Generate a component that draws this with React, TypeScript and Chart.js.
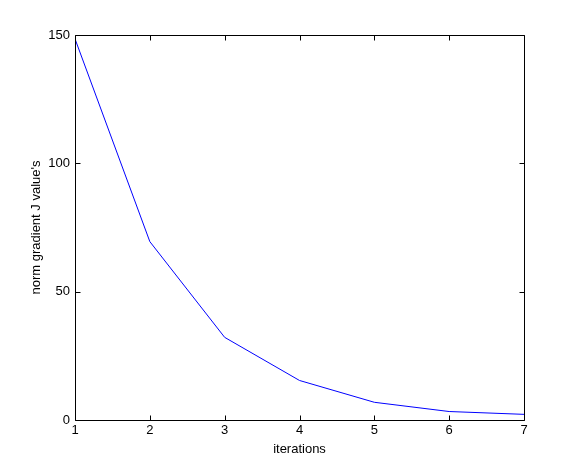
import React, { useEffect, useRef } from "react";
import { Chart, registerables } from "chart.js";

Chart.register(...registerables);

const iterations = [1, 2, 3, 4, 5, 6, 7];
const normGradient = [148.5, 69.5, 32.2, 15.4, 6.9, 3.3, 2.2];
const xTicks = [1, 2, 3, 4, 5, 6, 7];
const yTicks = [0, 50, 100, 150];

const FONT = "'Liberation Sans', Arial, Helvetica, sans-serif";

const boxPlugin = {
  id: "matlabBox",
  afterDraw(chart: any) {
    const ctx = chart.ctx;
    const { left, right, top, bottom } = chart.chartArea;
    const xs = chart.scales.x;
    const ys = chart.scales.y;
    ctx.save();
    ctx.strokeStyle = "#000";
    ctx.lineWidth = 1;
    const L = Math.round(left) + 0.5;
    const R = Math.round(right) + 0.5;
    const T = Math.round(top) + 0.5;
    const B = Math.round(bottom) + 0.5;
    ctx.beginPath();
    ctx.rect(L, T, R - L, B - T);
    const tl = 5;
    xTicks.forEach((v) => {
      const px = Math.round(xs.getPixelForValue(v)) + 0.5;
      ctx.moveTo(px, B);
      ctx.lineTo(px, B - tl);
      ctx.moveTo(px, T);
      ctx.lineTo(px, T + tl);
    });
    yTicks.forEach((v) => {
      const py = Math.round(ys.getPixelForValue(v)) + 0.5;
      ctx.moveTo(L, py);
      ctx.lineTo(L + tl, py);
      ctx.moveTo(R, py);
      ctx.lineTo(R - tl, py);
    });
    ctx.stroke();
    ctx.restore();
  },
};

export default function App() {
  const ref = useRef<HTMLCanvasElement | null>(null);
  useEffect(() => {
    const canvas = ref.current;
    if (!canvas) return;
    const chart = new Chart(canvas, {
      type: "line",
      data: {
        datasets: [
          {
            data: iterations.map((x, i) => ({ x, y: normGradient[i] })),
            borderColor: "#0000ff",
            borderWidth: 1,
            pointRadius: 0,
            tension: 0,
            fill: false,
          },
        ],
      },
      options: {
        animation: false,
        responsive: false,
        devicePixelRatio: 1,
        layout: { padding: { top: 35, right: 55, left: 0, bottom: 0 } },
        plugins: { legend: { display: false }, tooltip: { enabled: false } },
        scales: {
          x: {
            type: "linear",
            min: 1,
            max: 7,
            afterBuildTicks: (s: any) => {
              s.ticks = xTicks.map((v) => ({ value: v }));
            },
            afterFit: (s: any) => {
              s.height = 52;
            },
            grid: { display: false, drawTicks: false },
            border: { display: false },
            ticks: {
              padding: 3,
              color: "#000",
              font: { family: FONT, size: 13 },
              maxRotation: 0,
            },
            title: {
              display: true,
              text: "iterations",
              color: "#000",
              font: { family: FONT, size: 13 },
              padding: { top: 0, bottom: 15 },
            },
          },
          y: {
            type: "linear",
            min: 0,
            max: 150,
            afterBuildTicks: (s: any) => {
              s.ticks = yTicks.map((v) => ({ value: v }));
            },
            afterFit: (s: any) => {
              s.width = 75;
            },
            grid: { display: false, drawTicks: false },
            border: { display: false },
            ticks: {
              padding: 5,
              color: "#000",
              font: { family: FONT, size: 13 },
            },
            title: {
              display: true,
              text: "norm gradient J value's",
              color: "#000",
              font: { family: FONT, size: 13 },
              padding: { top: 29, bottom: 0 },
            },
          },
        },
      },
      plugins: [boxPlugin],
    } as any);
    return () => chart.destroy();
  }, []);
  return (
    <div style={{ position: "absolute", left: 0, top: 0, width: 579, height: 472, background: "#fff" }}>
      <canvas ref={ref} width={579} height={472} style={{ width: 579, height: 472, display: "block" }} />
    </div>
  );
}
